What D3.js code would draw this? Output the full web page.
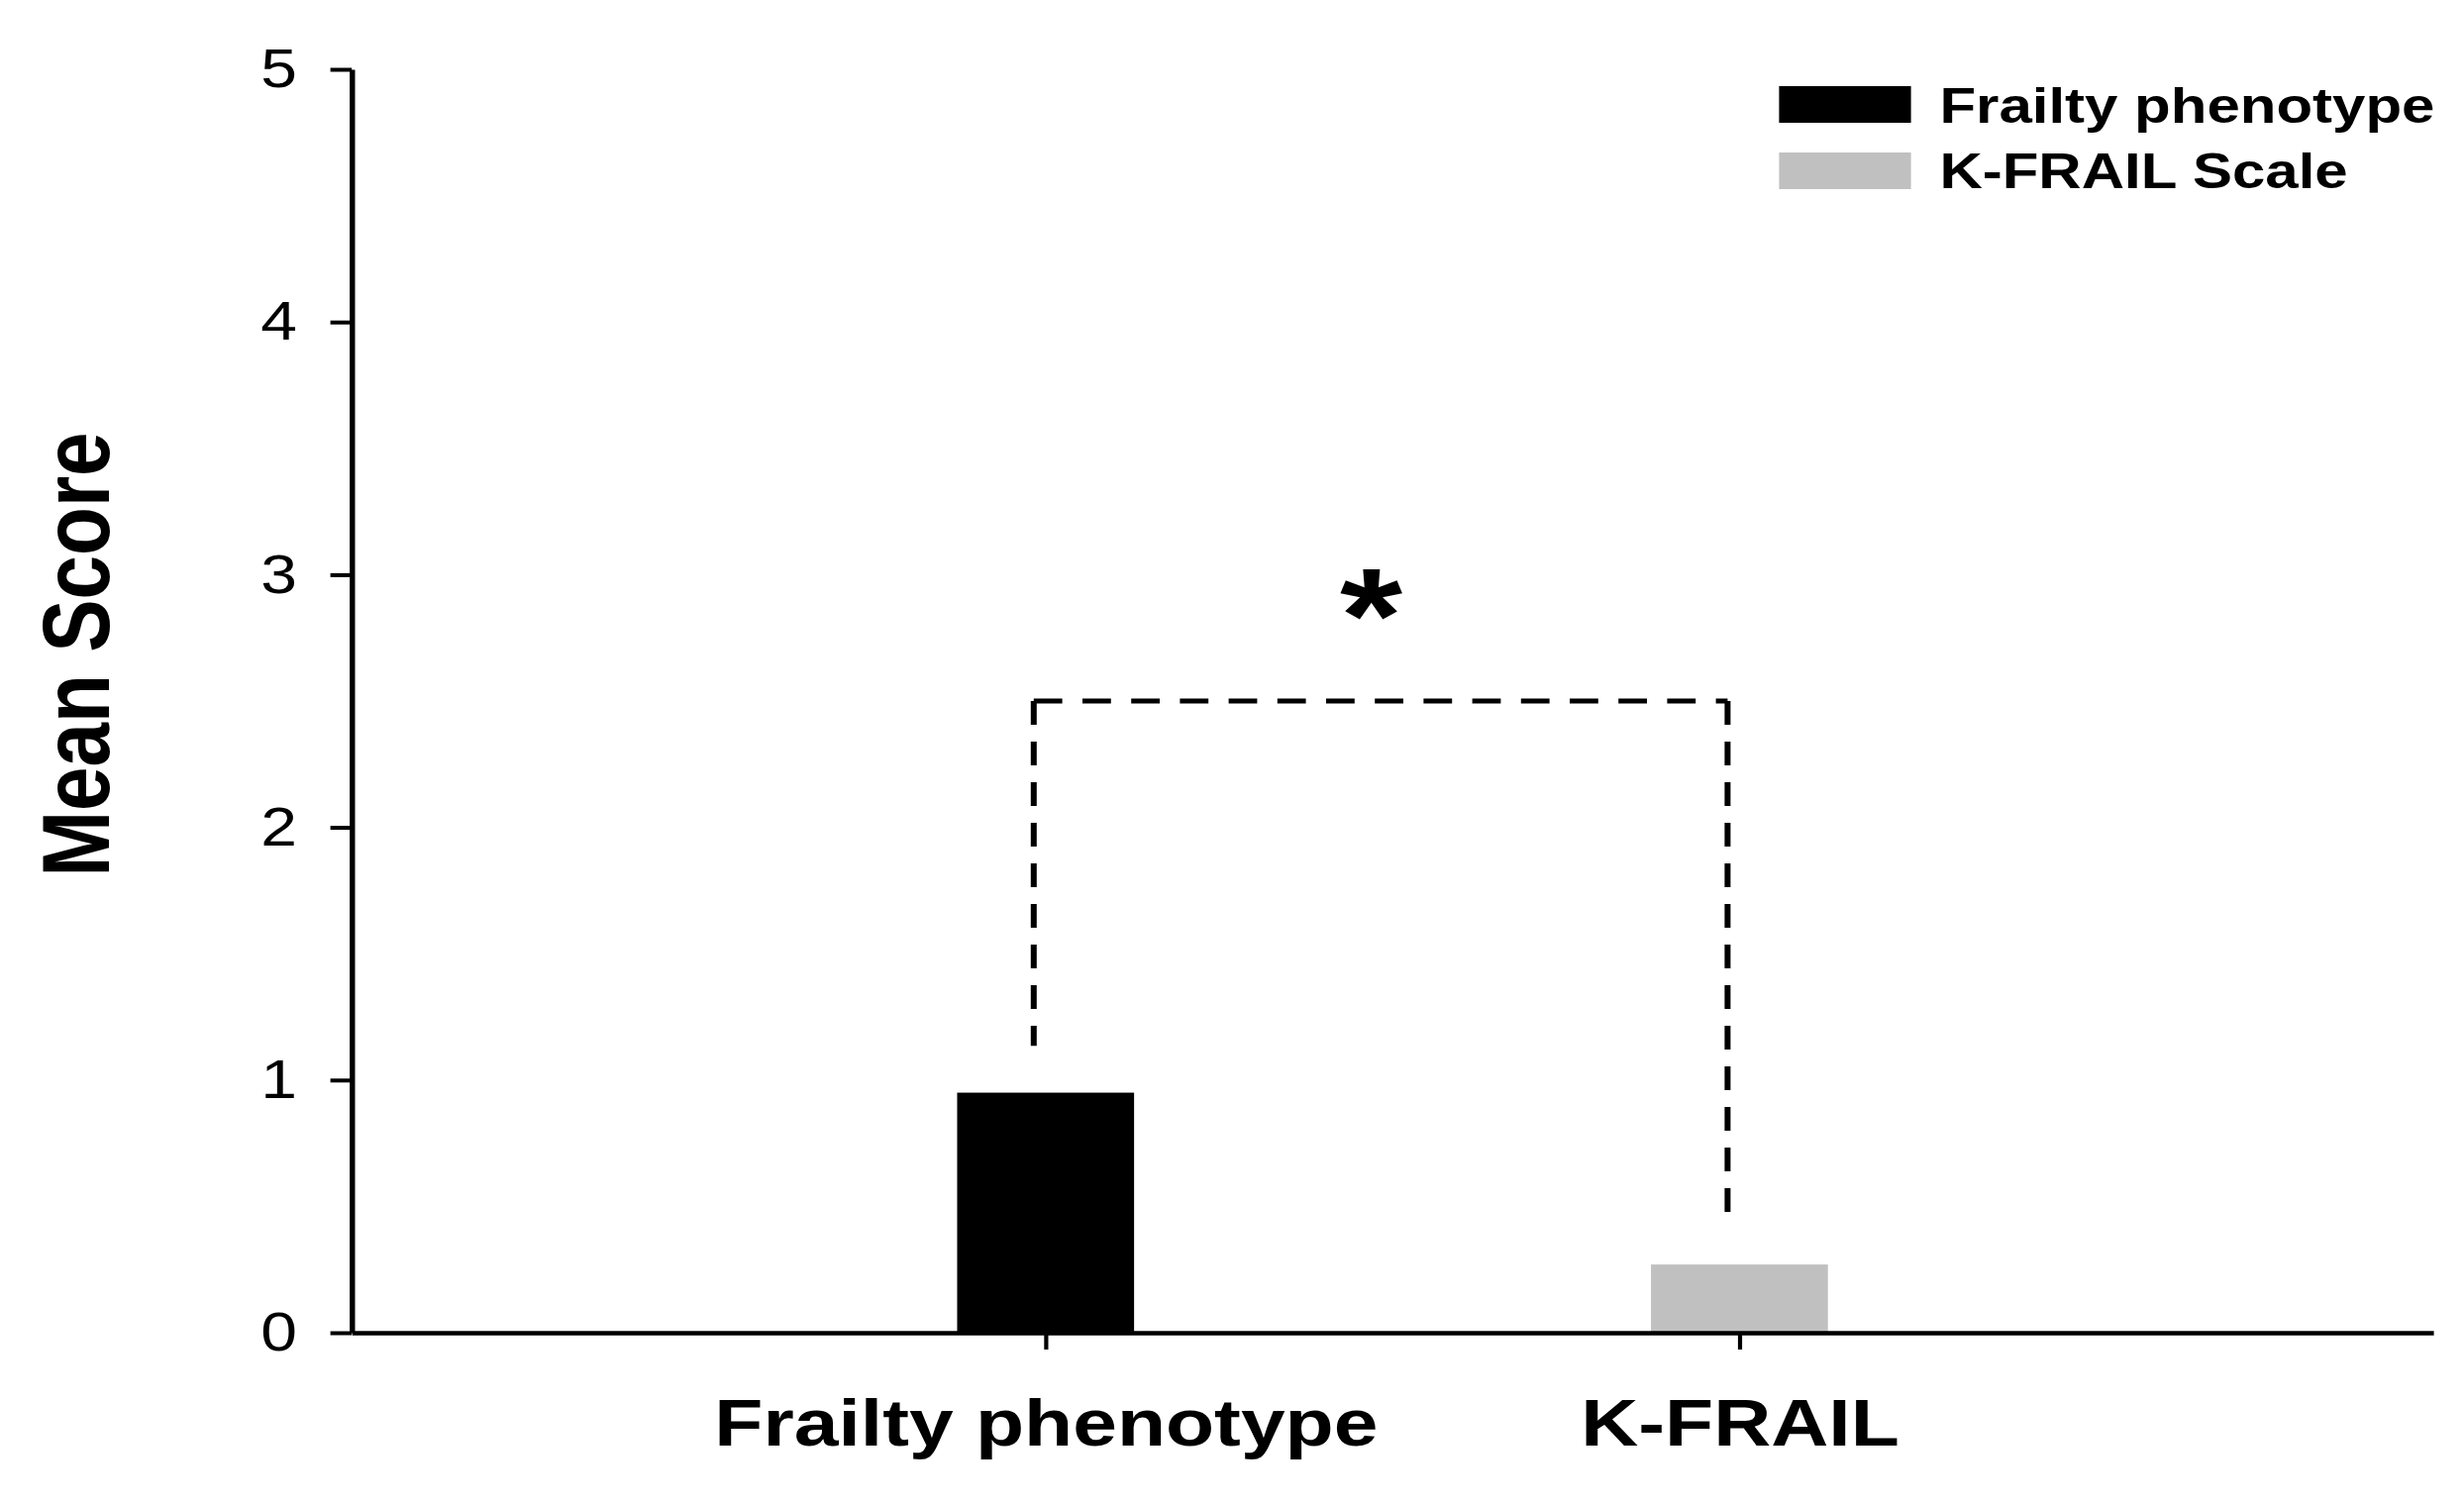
<!DOCTYPE html>
<html>
<head>
<meta charset="utf-8">
<script src="https://cdn.jsdelivr.net/npm/d3@7"></script>
<style>
  html, body { margin: 0; padding: 0; background: #fff; }
  svg { display: block; }
</style>
</head>
<body>
<script>
// ---- Data ----
const categories = ["Frailty phenotype", "K-FRAIL"];
const meanScores = [0.95, 0.27];
const legendLabels = ["Frailty phenotype", "K-FRAIL Scale"];
const barColors = ["#000000", "#c0c0c0"];
const yTicks = [0, 1, 2, 3, 4, 5];
const yTitle = "Mean Score";
const bracketLevel = 2.5;
const bracketDrop = 0.185;
const significanceMark = "*";

// ---- Layout ----
const W = 2488, H = 1519, SX = 1.2;
const FONT = "'Liberation Sans', Arial, Helvetica, sans-serif";

const svg = d3.select("body").append("svg").attr("width", W).attr("height", H);
svg.append("rect").attr("width", W).attr("height", H).attr("fill", "#fff");
const g = svg.append("g").attr("transform", `scale(${SX},1)`);

const x = d3.scalePoint().domain(categories).range([296, 2047.5]).padding(1);
const y = d3.scaleLinear().domain([0, 5]).range([1346, 70]);
const barW = x.step() * 0.255;

// bars
g.selectAll("rect.bar").data(categories).enter().append("rect")
  .attr("class", "bar")
  .attr("x", d => x(d) - barW / 2)
  .attr("y", (d, i) => y(meanScores[i]))
  .attr("width", barW)
  .attr("height", (d, i) => y(0) - y(meanScores[i]))
  .attr("fill", (d, i) => barColors[i]);

// y axis
const yAxis = g.append("g")
  .attr("transform", `translate(${x.range()[0]},0)`)
  .call(d3.axisLeft(y).tickValues(yTicks).tickSize(18).tickSizeOuter(0).tickPadding(28).tickFormat(d3.format("d")))
  .attr("font-family", FONT).attr("font-size", 55);
yAxis.select(".domain").attr("stroke", "#000").attr("stroke-width", 4.5);
yAxis.selectAll(".tick line").attr("stroke", "#000").attr("stroke-width", 4);
yAxis.selectAll(".tick text").attr("fill", "#000");

// x axis
const xAxis = g.append("g")
  .attr("transform", `translate(0,${y(0)})`)
  .call(d3.axisBottom(x).tickSize(17).tickSizeOuter(0).tickPadding(49))
  .attr("font-family", FONT).attr("font-size", 67).attr("font-weight", "bold");
xAxis.select(".domain").attr("stroke", "#000").attr("stroke-width", 4.5);
xAxis.selectAll(".tick line").attr("stroke", "#000").attr("stroke-width", 3.5);
xAxis.selectAll(".tick text").attr("fill", "#000");

// y title
g.append("text")
  .attr("transform", `translate(92,${(y(5) + y(0)) / 2 - 47}) rotate(-90)`)
  .attr("text-anchor", "middle")
  .attr("font-family", FONT).attr("font-size", 80).attr("font-weight", "bold")
  .attr("fill", "#000")
  .text(yTitle);

// legend
const legend = g.append("g").attr("transform", "translate(1497,87)");
legendLabels.forEach((lab, i) => {
  legend.append("rect")
    .attr("x", 0).attr("y", i * 67)
    .attr("width", 111).attr("height", 37)
    .attr("fill", barColors[i]);
  legend.append("text")
    .attr("x", 135).attr("y", i * 66 + 37)
    .attr("font-family", FONT).attr("font-size", 50).attr("font-weight", "bold")
    .attr("fill", "#000")
    .text(lab);
});

// significance bracket
const xl = x(categories[0]) - 10, xr = x(categories[1]) - 10;
const yb = y(bracketLevel);
const dashStyle = sel => sel.attr("stroke", "#000").attr("stroke-width", 5).attr("stroke-dasharray", "24,17").attr("fill", "none");
g.append("line").attr("x1", xl).attr("y1", yb).attr("x2", xl).attr("y2", y(meanScores[0] + bracketDrop)).call(dashStyle);
g.append("line").attr("x1", xl).attr("y1", yb).attr("x2", xr).attr("y2", yb).call(dashStyle);
g.append("line").attr("x1", xr).attr("y1", yb).attr("x2", xr).attr("y2", y(meanScores[1] + bracketDrop)).call(dashStyle);

g.append("text")
  .attr("x", (xl + xr) / 2 - 8)
  .attr("y", yb - 40)
  .attr("text-anchor", "middle")
  .attr("font-family", FONT).attr("font-size", 135).attr("font-weight", "bold")
  .attr("fill", "#000")
  .text(significanceMark);
</script>
</body>
</html>
